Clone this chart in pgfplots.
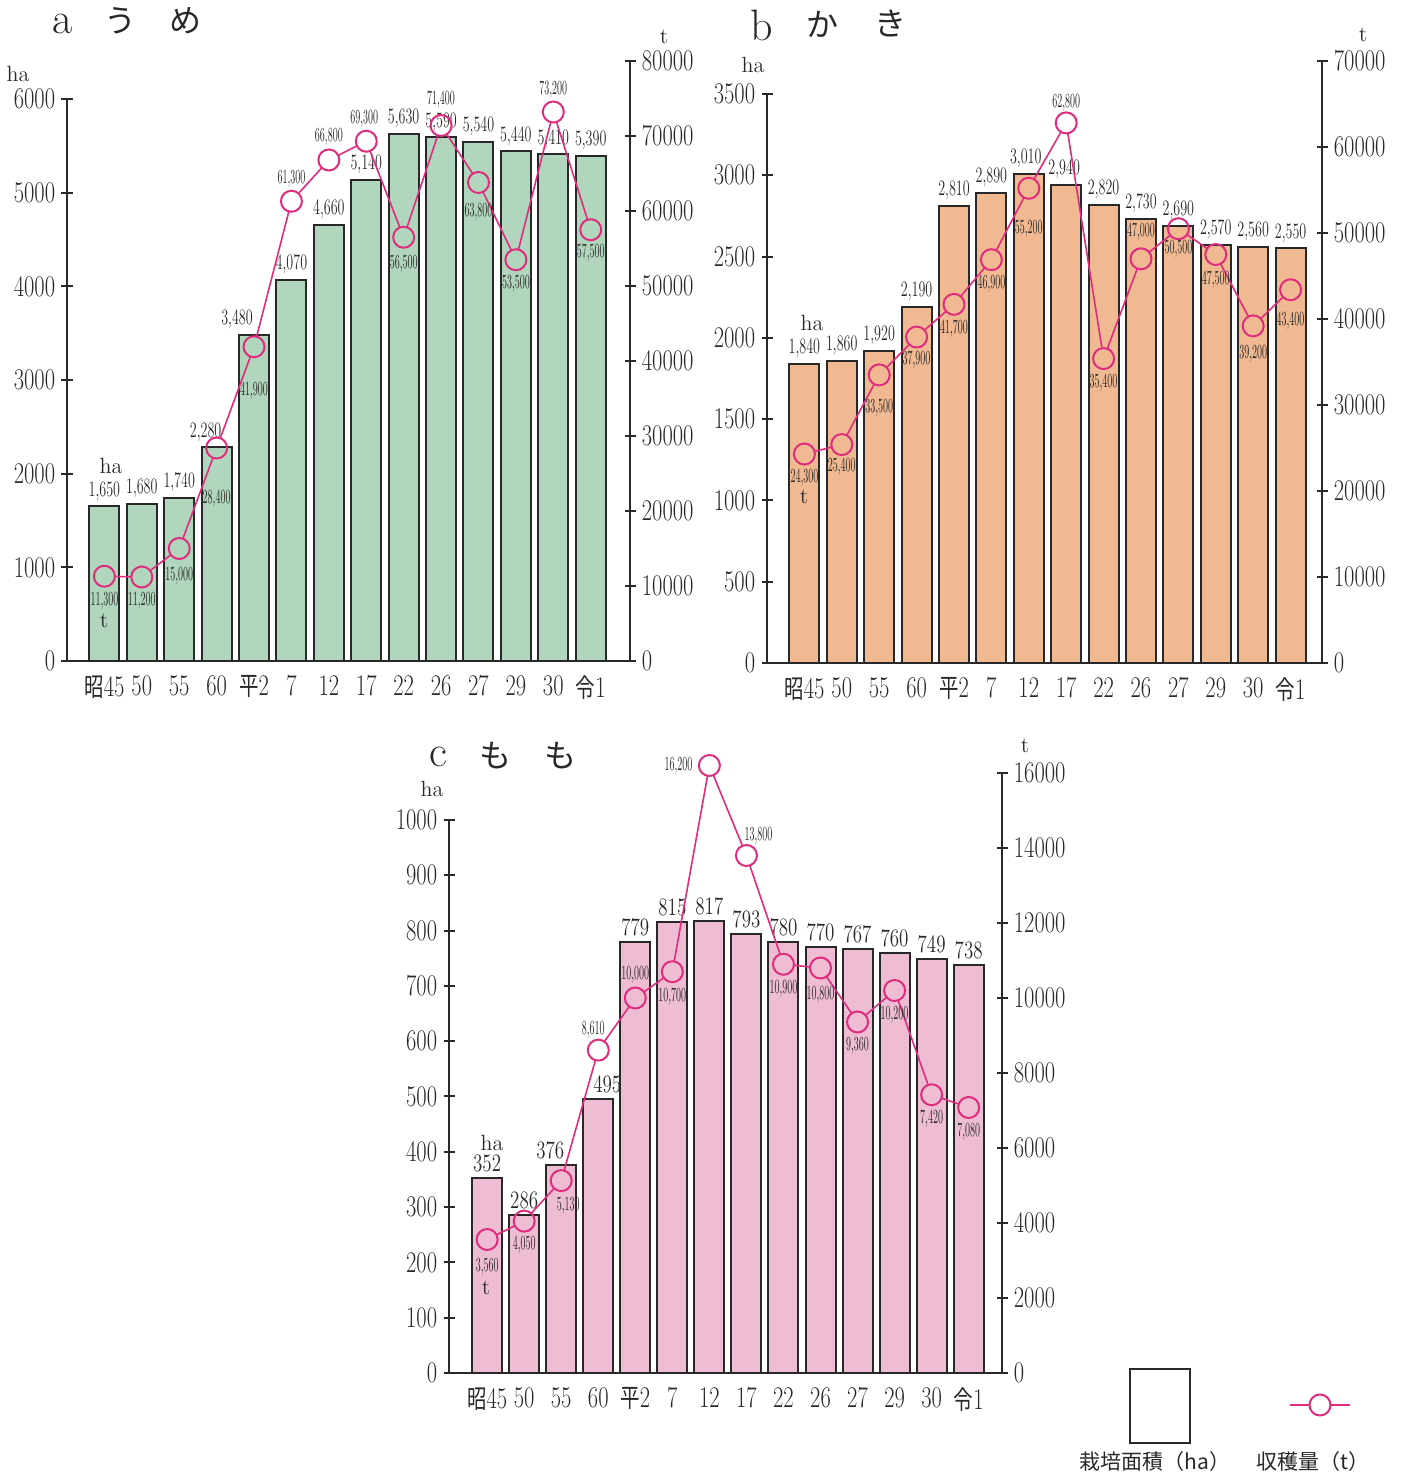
\documentclass[border=0pt]{standalone}
\usepackage{fontspec}
\usepackage{graphicx}
\usepackage{pgfplots}
\usepackage{pgfplotstable}
\pgfplotsset{compat=1.18}
\newfontfamily\jp{Noto Sans CJK JP}
\definecolor{cg}{RGB}{177,214,189}
\definecolor{co}{RGB}{241,185,146}
\definecolor{cp}{RGB}{238,189,212}
\definecolor{lmag}{RGB}{222,45,125}
\definecolor{ax}{RGB}{40,40,40}
\newcommand\cnd[2]{\scalebox{#1}[1]{#2}}
\newcommand\jx{\jp\fontsize{13}{13}\selectfont}

\pgfplotstableread{
x ha t bdx dx dy
0 1650 11300 0 0 -12.5
1 1680 11200 0 0 -12
2 1740 15000 0 0 -13.5
3 2280 28400 -5.5 0 -25.5
4 3480 41900 -8.5 0 -22
5 4070 61300 0 0 11
6 4660 66800 0 0 11.5
7 5140 69300 0 -1 11
8 5630 56500 0 0 -13.5
9 5590 71400 0 0 13
10 5540 63800 0 0 -14.5
11 5440 53500 0 0 -12
12 5410 73200 0 0 11
13 5390 57500 0 0 -11.5
}\ta
\pgfplotstableread{
x ha t bdx dx dy
0 1840 24300 0 0 -12
1 1860 25400 0 0 -11
2 1920 33500 0 0 -16.5
3 2190 37900 0 0 -11.5
4 2810 41700 0 0 -12
5 2890 46900 0 0 -12
6 3010 55200 -1.5 0 -20
7 2940 62800 -1 0 10
8 2820 35400 0 0 -12
9 2730 47000 0 0 13.5
10 2690 50500 0 0 -10
11 2570 47500 0 0 -12.5
12 2560 39200 0 0 -14
13 2550 43400 0 0 -15.5
}\tb
\pgfplotstableread{
x ha t bdx dx dy
0 352 3560 0 0 -13.5
1 286 4050 0 0 -12
2 376 5130 -5.5 3.5 -12.5
3 495 8610 4.5 -2.5 10
4 779 10000 0 0 11.5
5 815 10700 0 0 -12.5
6 817 16200 0 -15.5 0
7 793 13800 0 6 10
8 780 10900 0 0 -12.5
9 770 10800 0 0 -13.5
10 767 9360 0 0 -12
11 760 10200 0 0 -12
12 749 7420 0 0 -12
13 738 7080 0 0 -12
}\tc

\pgfplotsset{
  noarrows/.style={
    axis line style={-, line width=1pt, ax},
    every outer x axis line/.append style={-},
    every outer y axis line/.append style={-},
    every inner x axis line/.append style={-},
    every inner y axis line/.append style={-},
    x axis line style={-}, y axis line style={-}},
  base/.style={scale only axis, clip=false, xmin=-1,
    major tick length=5.5pt, tick align=inside,
    scaled y ticks=false, scaled x ticks=false,
    ytick style={line width=1pt, ax},
    yticklabel style={font=\fontsize{15}{15}\selectfont, inner xsep=3pt, text=ax},
    yticklabel={\cnd{0.75}{\pgfmathprintnumber[fixed,precision=0,1000 sep={},assume math mode=true]{\tick}}},
  },
  leftax/.style={base, axis x line=bottom, axis y line=left, ymin=0, noarrows,
    xtick={0,...,13}, xtick style={draw=none},
    xticklabels={\cnd{0.75}{{\jx 昭}45},\cnd{0.75}{50},\cnd{0.75}{55},\cnd{0.75}{60},\cnd{0.75}{{\jx 平}2},\cnd{0.75}{7},\cnd{0.75}{12},\cnd{0.75}{17},\cnd{0.75}{22},\cnd{0.75}{26},\cnd{0.75}{27},\cnd{0.75}{29},\cnd{0.75}{30},\cnd{0.75}{{\jx 令}1}},
    xticklabel style={font=\fontsize{15}{15}\selectfont, yshift=-1pt, text=ax},
  },
  rightax/.style={base, axis x line=none, axis y line=right, ymin=0, xtick=\empty, noarrows},
}

\newcommand\mybars[4]{% table, fill, fontsize, scale
  \addplot[ybar, bar width=15pt, fill=#2, draw=ax, line width=1pt,
    point meta=\thisrow{ha},
    visualization depends on={\thisrow{bdx}\as\bdx},
    nodes near coords={\cnd{#4}{\pgfmathprintnumber[fixed,precision=0,1000 sep={,},assume math mode=true]{\pgfplotspointmeta}}},
    every node near coord/.append style={font=\fontsize{#3}{#3}\selectfont, xshift=\bdx pt, text=ax, inner sep=2.5pt}]
    table[x=x,y=ha]{#1};
}
\newcommand\myseg[3]{\addplot[color=lmag, line width=0.8pt, shorten >=5.4pt, shorten <=5.4pt, forget plot,
    skip coords between index={0}{#2}, skip coords between index={#3}{14}] table[x=x,y=t]{#1};}
\newcommand\allseg[1]{\myseg{#1}{0}{2}\myseg{#1}{1}{3}\myseg{#1}{2}{4}\myseg{#1}{3}{5}\myseg{#1}{4}{6}\myseg{#1}{5}{7}\myseg{#1}{6}{8}\myseg{#1}{7}{9}\myseg{#1}{8}{10}\myseg{#1}{9}{11}\myseg{#1}{10}{12}\myseg{#1}{11}{13}\myseg{#1}{12}{14}}
\newcommand\mymarks[1]{%
  \addplot[only marks, mark=o, mark size=5.25pt, color=lmag, line width=1pt,
    point meta=\thisrow{t},
    visualization depends on={\thisrow{dx}\as\ldx},
    visualization depends on={\thisrow{dy}\as\ldy},
    nodes near coords={\cnd{0.5}{\pgfmathprintnumber[fixed,precision=0,1000 sep={,},assume math mode=true]{\pgfplotspointmeta}}},
    nodes near coords align={center},
    every node near coord/.append style={font=\fontsize{10}{10}\selectfont, anchor=center, inner sep=0pt, xshift=\ldx pt, yshift=\ldy pt, text=ax}]
    table[x=x,y=t]{#1};
}

\begin{document}
\begin{tikzpicture}
\path[use as bounding box] (0,0) rectangle (701.5pt,737pt);
% ---------- a ----------
\begin{axis}[leftax, at={(33.5pt,406.5pt)}, anchor=south west, width=281.5pt, height=281pt,
  xmax=14.05, ymax=6000, ytick={0,1000,...,6000}]
\mybars{\ta}{cg}{11}{0.64}
\end{axis}
\begin{axis}[rightax, at={(33.5pt,406.5pt)}, anchor=south west, width=281.5pt, height=300pt,
  xmax=14.05, ymax=80000, ytick={0,10000,...,80000}]
\allseg{\ta}
\mymarks{\ta}
\end{axis}
% ---------- b ----------
\begin{axis}[leftax, at={(383.5pt,405.5pt)}, anchor=south west, width=277.5pt, height=284.5pt,
  xmax=13.84, ymax=3500, ytick={0,500,...,3500}]
\mybars{\tb}{co}{11}{0.64}
\end{axis}
\begin{axis}[rightax, at={(383.5pt,405.5pt)}, anchor=south west, width=277.5pt, height=301pt,
  xmax=13.84, ymax=70000, ytick={0,10000,...,70000}]
\allseg{\tb}
\mymarks{\tb}
\end{axis}
% ---------- c ----------
\begin{axis}[leftax, at={(224.5pt,50.5pt)}, anchor=south west, width=276.5pt, height=276.5pt,
  xmin=-1.03, xmax=13.9, ymax=1000, ytick={0,100,...,1000}]
\mybars{\tc}{cp}{12.5}{0.76}
\end{axis}
\begin{axis}[rightax, at={(224.5pt,50.5pt)}, anchor=south west, width=276.5pt, height=300pt,
  xmin=-1.03, xmax=13.9, ymax=16000, ytick={0,2000,...,16000}]
\allseg{\tc}
\mymarks{\tc}
\end{axis}
% ---------- texts (pixel coordinates) ----------
\begin{scope}[x=0.5pt, y=-0.5pt, yshift=737pt, text=ax, every node/.style={inner sep=0pt}]
\node[font=\fontsize{22}{22}\selectfont] at (63,24) {a};
\node[font=\jp\fontsize{16}{16}\selectfont] at (120,21) {う};
\node[font=\jp\fontsize{16}{16}\selectfont] at (185,21) {め};
\node[font=\fontsize{22}{22}\selectfont] at (762,25) {b};
\node[font=\jp\fontsize{16}{16}\selectfont] at (822,24) {か};
\node[font=\jp\fontsize{16}{16}\selectfont] at (890,24) {き};
\node[font=\fontsize{22}{22}\selectfont] at (438,757) {c};
\node[font=\jp\fontsize{16}{16}\selectfont] at (495,756) {も};
\node[font=\jp\fontsize{16}{16}\selectfont] at (560,756) {も};
% units
\node[font=\fontsize{11}{11}\selectfont] at (18,74) {ha};
\node[font=\fontsize{11}{11}\selectfont] at (664,37) {t};
\node[font=\fontsize{11}{11}\selectfont] at (753,65) {ha};
\node[font=\fontsize{11}{11}\selectfont] at (1363,35) {t};
\node[font=\fontsize{11}{11}\selectfont] at (432,789) {ha};
\node[font=\fontsize{11}{11}\selectfont] at (1025,746) {t};
\node[font=\fontsize{11}{11}\selectfont] at (111,466) {ha};
\node[font=\fontsize{11}{11}\selectfont] at (104,621) {t};
\node[font=\fontsize{11}{11}\selectfont] at (812,323) {ha};
\node[font=\fontsize{11}{11}\selectfont] at (804,497) {t};
\node[font=\fontsize{11}{11}\selectfont] at (492,1143) {ha};
\node[font=\fontsize{11}{11}\selectfont] at (486,1288) {t};
% legend
\draw[ax, line width=0.8pt, fill=white] (1130,1369) rectangle (1190,1443);
\draw[lmag, line width=0.8pt] (1290,1405) -- (1309.5,1405) (1330.5,1405) -- (1350,1405);
\draw[lmag, line width=1pt] (1320,1405) circle[radius=10.5];
\node[font=\jp\fontsize{10.5}{10.5}\selectfont] at (1155,1462) {栽培面積（ha）};
\node[font=\jp\fontsize{10.5}{10.5}\selectfont] at (1313,1462) {収穫量（t）};
\end{scope}
\end{tikzpicture}
\end{document}
